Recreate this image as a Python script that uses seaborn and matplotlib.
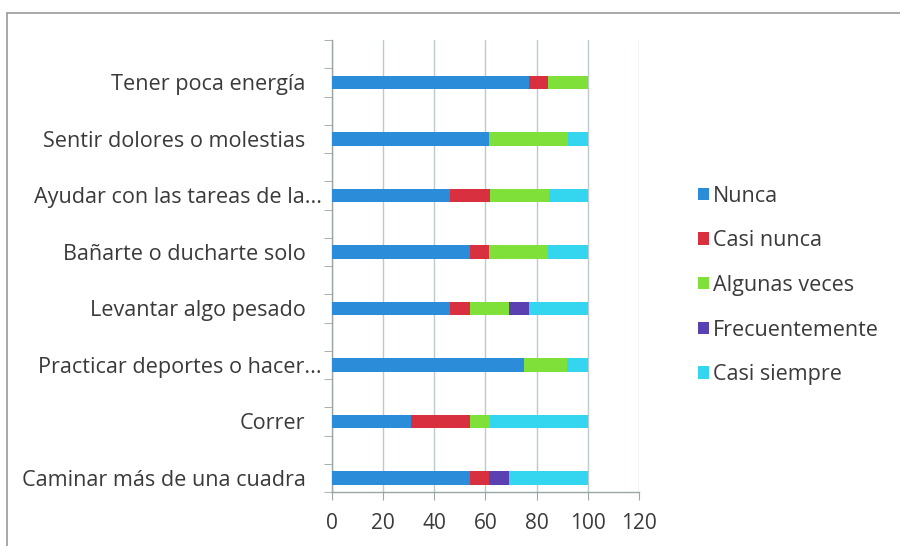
import numpy as np
import matplotlib
matplotlib.use("Agg")
import matplotlib.pyplot as plt
import matplotlib.transforms as mtransforms
from matplotlib.patches import Patch
from matplotlib.lines import Line2D
import seaborn as sns
import pandas as pd

# categories (top to bottom as in the chart)
actividades = [
    "Tener poca energía",
    "Sentir dolores o molestias",
    "Ayudar con las tareas de la...",
    "Bañarte o ducharte solo",
    "Levantar algo pesado",
    "Practicar deportes o hacer...",
    "Correr",
    "Caminar más de una cuadra",
]

# percentage of answers per category
nunca          = [76.9, 61.5, 46.2, 53.8, 46.2, 75.0, 30.8, 53.8]
casi_nunca     = [7.7, 0.0, 15.4, 7.7, 7.7, 0.0, 23.1, 7.7]
algunas_veces  = [15.4, 30.8, 23.1, 23.1, 15.4, 16.7, 7.7, 0.0]
frecuentemente = [0.0, 0.0, 0.0, 0.0, 7.7, 0.0, 0.0, 7.7]
casi_siempre   = [0.0, 7.7, 15.4, 15.4, 23.1, 8.3, 38.5, 30.8]

series = ["Nunca", "Casi nunca", "Algunas veces", "Frecuentemente", "Casi siempre"]
colores = ["#2b8cd9", "#d8303f", "#7fe03a", "#5b40b2", "#33d6ee"]

df = pd.DataFrame({
    "actividad": actividades,
    "Nunca": nunca,
    "Casi nunca": casi_nunca,
    "Algunas veces": algunas_veces,
    "Frecuentemente": frecuentemente,
    "Casi siempre": casi_siempre,
})
cum = df[series].cumsum(axis=1)
cum["actividad"] = actividades

sns.set_style("white")
plt.rcParams["font.family"] = ["Open Sans", "DejaVu Sans"]
txt = "#3a3a3a"
gris = "#9aa5a5"

fig = plt.figure(figsize=(9, 5.46), dpi=100)
ax = fig.add_axes([0.3689, 0.0989, 0.341, 0.8278])

# stacked bars: draw cumulative totals from the last series back to the first
for s, c in zip(series[::-1], colores[::-1]):
    sns.barplot(data=cum, x=s, y="actividad", orient="h", color=c,
                width=0.24, saturation=1, linewidth=0, edgecolor="none",
                ax=ax, zorder=3)

ax.set_xlim(0, 120)
ax.set_ylim(7.25, -0.75)
ax.set_xticks(np.arange(0, 121, 20))
ax.set_xlabel("")
ax.set_ylabel("")
ax.xaxis.grid(True, color="#bccaca", lw=1)
ax.set_axisbelow(True)

for side in ["top", "right"]:
    ax.spines[side].set_visible(False)
for side in ["left", "bottom"]:
    ax.spines[side].set_color(gris)
    ax.spines[side].set_linewidth(1)

ax.set_yticks(range(len(actividades)))
ax.set_yticklabels(actividades)
ax.set_yticks(np.arange(-0.75, 7.3, 0.5), minor=True)
ax.tick_params(axis="y", which="major", length=0, pad=19, labelsize=15.6, labelcolor=txt)
ax.tick_params(axis="y", which="minor", length=6, color=gris, direction="out", left=True)
ax.tick_params(axis="x", length=6, color=gris, direction="out", bottom=True,
               labelsize=15, labelcolor=txt, pad=9)

# truncated labels sit closer to the axis, as in the original
for lab in ax.get_yticklabels():
    if lab.get_text().endswith("..."):
        lab.set_transform(lab.get_transform() +
                          mtransforms.ScaledTranslation(16 / 100, 0, fig.dpi_scale_trans))

handles = [Patch(facecolor=c, edgecolor="none", label=s) for s, c in zip(series, colores)]
fig.legend(handles=handles, loc="upper left", bbox_to_anchor=(0.766, 0.676),
           frameon=False, fontsize=15.5, handlelength=0.5, handleheight=0.5,
           handletextpad=0.2, labelspacing=1.1, labelcolor=txt, borderaxespad=0)

# outer chart border (only left and top are visible in the reference)
fig.lines.append(Line2D([0.0078, 0.0078], [0, 0.976], transform=fig.transFigure,
                        color="#9a9a9a", lw=1.2))
fig.lines.append(Line2D([0.0078, 1], [0.976, 0.976], transform=fig.transFigure,
                        color="#9a9a9a", lw=1.2))

fig.savefig("out.png", dpi=100, facecolor="white")
